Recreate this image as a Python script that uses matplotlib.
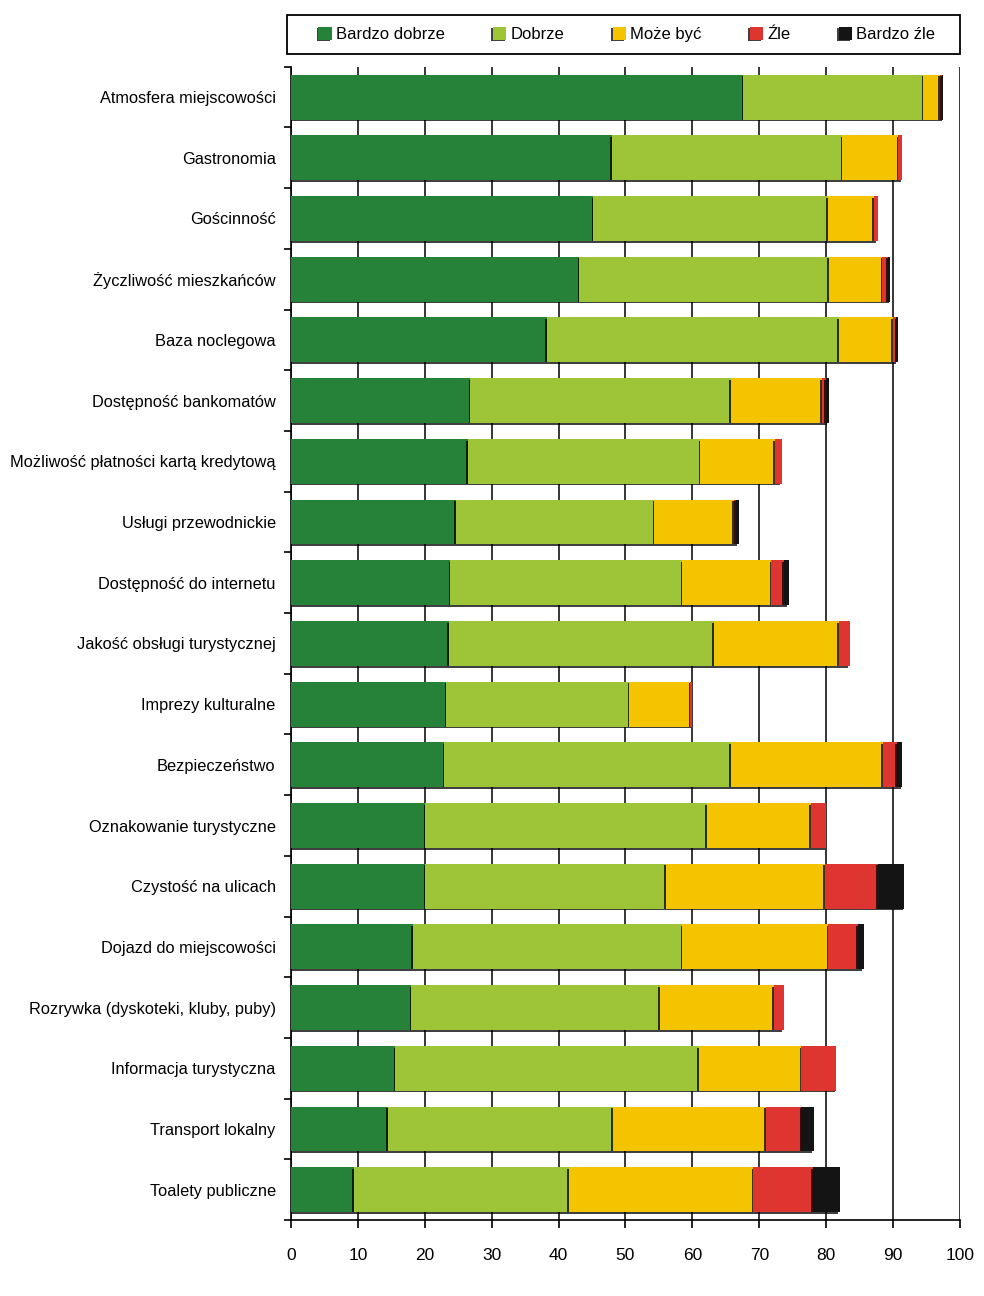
import numpy as np
import matplotlib
matplotlib.use('Agg')
import matplotlib.pyplot as plt
import matplotlib.patheffects as pe
from matplotlib.patches import Rectangle

plt.rcParams['font.family'] = ['Liberation Sans', 'DejaVu Sans']

# Categories (top to bottom) and shares of answers, %
categories = [
    'Atmosfera miejscowości', 'Gastronomia', 'Gościnność', 'Życzliwość mieszkańców',
    'Baza noclegowa', 'Dostępność bankomatów', 'Możliwość płatności kartą kredytową',
    'Usługi przewodnickie', 'Dostępność do internetu', 'Jakość obsługi turystycznej',
    'Imprezy kulturalne', 'Bezpieczeństwo', 'Oznakowanie turystyczne',
    'Czystość na ulicach', 'Dojazd do miejscowości', 'Rozrywka (dyskoteki, kluby, puby)',
    'Informacja turystyczna', 'Transport lokalny', 'Toalety publiczne',
]
bardzo_dobrze = [67.6, 48.0, 45.2, 43.1, 38.2, 26.8, 26.4, 24.6, 23.8, 23.6,
                 23.2, 22.9, 20.1, 20.1, 18.2, 18.0, 15.6, 14.5, 9.4]
dobrze = [26.9, 34.4, 35.0, 37.3, 43.7, 38.9, 34.8, 29.7, 34.7, 39.6,
          27.4, 42.8, 42.1, 35.9, 40.3, 37.1, 45.4, 33.6, 32.1]
moze_byc = [2.5, 8.4, 6.9, 8.0, 8.1, 13.6, 11.1, 11.9, 13.3, 18.7,
            9.1, 22.8, 15.5, 23.8, 21.8, 17.1, 15.3, 22.9, 27.6]
zle = [0.3, 0.6, 0.6, 0.8, 0.5, 0.6, 1.1, 0.3, 1.9, 1.6,
       0.3, 2.1, 2.3, 7.9, 4.4, 1.5, 5.2, 5.3, 8.9]
bardzo_zle = [0.2, 0.0, 0.0, 0.4, 0.2, 0.5, 0.0, 0.4, 0.7, 0.0,
              0.0, 0.8, 0.0, 4.0, 0.9, 0.0, 0.0, 1.9, 4.0]

series = [bardzo_dobrze, dobrze, moze_byc, zle, bardzo_zle]
labels = ['Bardzo dobrze', 'Dobrze', 'Może być', 'Źle', 'Bardzo źle']
colors = ['#268239', '#9dc537', '#f5c400', '#de3530', '#141414']

fig = plt.figure(figsize=(9.84, 12.96), dpi=100)
ax = fig.add_axes([0.2957, 0.0586, 0.6799, 0.8899])

y = np.arange(len(categories))
left = np.zeros(len(categories))
shadow = [pe.SimplePatchShadow(offset=(-1.2, -1.2), shadow_rgbFace='black', alpha=0.75),
          pe.Normal()]
handles = []
for vals, lab, col in zip(series, labels, colors):
    vals = np.array(vals)
    bars = ax.barh(y, vals, left=left, height=0.74, color=col, label=lab,
                   edgecolor='none', zorder=3)
    for b in bars:
        b.set_path_effects(shadow)
    handles.append(bars)
    left += vals

ax.set_ylim(len(categories) - 0.5, -0.5)
ax.set_xlim(0, 100)
ax.set_xticks(np.arange(0, 101, 10))
ax.set_yticks(y)
ax.set_yticklabels(categories, fontsize=11.8)
ax.set_yticks(np.arange(-0.5, len(categories), 1), minor=True)
ax.tick_params(axis='y', which='major', length=0, pad=11)
ax.tick_params(axis='y', which='minor', length=5, width=1.2, direction='out')
ax.tick_params(axis='x', length=6, width=1.2, direction='out', labelsize=12.5, pad=14)

ax.grid(axis='x', color='black', linewidth=1.1, zorder=0)
ax.set_axisbelow(True)
for s in ['top', 'right']:
    ax.spines[s].set_visible(False)
for s in ['left', 'bottom']:
    ax.spines[s].set_linewidth(1.2)

# legend frame drawn separately, entries centred inside it
fig.patches.append(Rectangle((0.2917, 0.9583), 0.6839, 0.0301, transform=fig.transFigure,
                             fill=False, edgecolor='black', linewidth=1.3))
fig.legend(handles=handles, labels=labels, loc='center', ncol=5,
           bbox_to_anchor=(0.637, 0.9735), frameon=False, fontsize=12,
           handlelength=0.8, handleheight=0.8, handletextpad=0.25,
           columnspacing=2.9)

fig.savefig('out.png', dpi=100, facecolor='white')
